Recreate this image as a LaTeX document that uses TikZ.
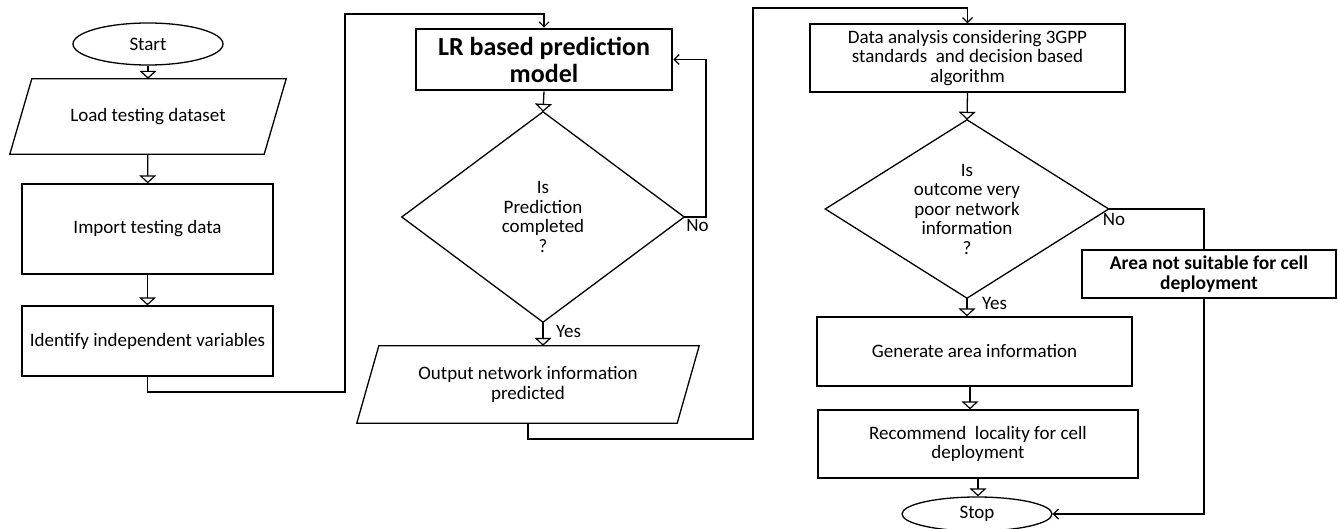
\documentclass[tikz,border=0pt]{standalone}
\usepackage{fontspec}
\setmainfont{Carlito}
\usetikzlibrary{arrows.meta,shapes.geometric}

\tikzset{
  box/.style={draw, line width=1.3pt, align=center, inner sep=2pt},
  thickbox/.style={draw, line width=2.6pt, align=center, inner sep=2pt, fill=white, font=\bfseries},
  hidden/.style={align=center, inner sep=2pt},
  terminal/.style={draw, ellipse, line width=1.3pt, inner sep=0pt},
  shapeline/.style={line width=1.3pt, line join=miter},
  flow/.style={line width=1.3pt, -{Triangle[open, width=17pt, length=8pt, line width=1.2pt]}},
  jump/.style={line width=1.3pt, -{Straight Barb[length=5pt, width=10pt, line width=1.2pt]}},
  lbl/.style={inner sep=1pt},
}

\begin{document}
\begin{tikzpicture}[x=1pt, y=-1pt, font=\fontsize{19}{19.5}\selectfont]
\useasboundingbox (0,0) rectangle (1338,529);

% ---- first column: loading the test data
\node[terminal, minimum width=150pt, minimum height=42pt] (start) at (148,44) {Start};
\node[hidden, minimum width=254pt, minimum height=75pt] (load) at (148,116.5) {Load testing dataset};
\draw[shapeline] ([xshift=11pt]load.north west) -- ([xshift=11pt]load.north east)
  -- ([xshift=-11pt]load.south east) -- ([xshift=-11pt]load.south west) -- cycle;
\node[box, minimum width=251pt, minimum height=90pt] (import) at (147.5,229) {Import testing data};
\node[box, minimum width=251pt, minimum height=70pt] (ident) at (147.5,341) {Identify independent variables};

% ---- second column: prediction loop
\node[thickbox, minimum width=256pt, minimum height=61pt, font=\fontsize{26}{27}\selectfont\bfseries] (lr) at (544,59.5) {LR based prediction\\model};
\node[hidden, minimum width=282pt, minimum height=210pt] (d1) at (543,217) {Is\\Prediction\\completed\\?};
\draw[shapeline] (d1.north) -- (d1.east) -- (d1.south) -- (d1.west) -- cycle;
\node[hidden, minimum width=320pt, minimum height=77pt] (out) at (528,384.5) {Output network information\\predicted};
\draw[shapeline] ([xshift=11pt]out.north west) -- ([xshift=11pt]out.north east)
  -- ([xshift=-11pt]out.south east) -- ([xshift=-11pt]out.south west) -- cycle;

% ---- third column: analysis and decision
\node[box, minimum width=315pt, minimum height=68pt] (data) at (967.5,58) {Data analysis considering 3GPP\\standards\ \ and decision based\\algorithm};
\node[hidden, minimum width=283pt, minimum height=178pt] (d2) at (967,209) {Is\\outcome very\\poor network\\information\\?};
\draw[shapeline] (d2.north) -- (d2.east) -- (d2.south) -- (d2.west) -- cycle;
\node[box, minimum width=315pt, minimum height=69pt] (gen) at (974.5,351.5) {Generate area information};
\node[box, minimum width=320pt, minimum height=68pt] (rec) at (978,444) {Recommend\ \ locality for cell\\deployment};
\node[terminal, minimum width=150pt, minimum height=34pt] (stop) at (977,514) {Stop};

% ---- bend points of the long connectors
\coordinate (j1) at (345,392);
\coordinate (j2) at (345,14);
\coordinate (j3) at (753,439);
\coordinate (j4) at (753,8);
\coordinate (n1) at (706,217);
\coordinate (n2) at (1204,209);

% ---- connectors
\draw[flow] (start) -- (load);
\draw[flow] (load) -- (import);
\draw[flow] (import) -- (ident);
\draw[jump] (ident.south) |- (j1) -- (j2) -| (lr.north);
\draw[flow] (lr.south) -- (d1.north);
\draw[jump] (d1.east) -- (n1) |- (lr.east);
\draw[flow] (d1.south) -- (d1.south |- out.north);
\draw[jump] (out.south) |- (j3) -- (j4) -| (data.north);
\draw[flow] (data.south) -- (d2.north);
\draw[flow] (d2.south) -- (d2.south |- gen.north);
\draw[flow] ([xshift=3pt]d2.south |- gen.south) -- ([xshift=3pt]d2.south |- rec.north);
\draw[flow] (rec.south) -- (rec.south |- stop.north);
\draw[jump] (d2.east) -- (n2) |- (stop.east);

% ---- branch labels
\node[lbl, anchor=north west] at ([xshift=1pt, yshift=-1pt]d1.east) {No};
\node[lbl, anchor=west] at ([xshift=12pt, yshift=-9pt]d1.south) {Yes};
\node[lbl, anchor=north west] at ([xshift=-7pt, yshift=-3pt]d2.east) {No};
\node[lbl, anchor=west] at ([xshift=14pt, yshift=-5pt]d2.south) {Yes};

% ---- box sitting on the "No" branch
\node[thickbox, minimum width=254pt, minimum height=48pt, font=\fontsize{19.5}{20}\selectfont\bfseries] (area) at (1209,274) {Area not suitable for cell\\deployment};
\end{tikzpicture}
\end{document}
